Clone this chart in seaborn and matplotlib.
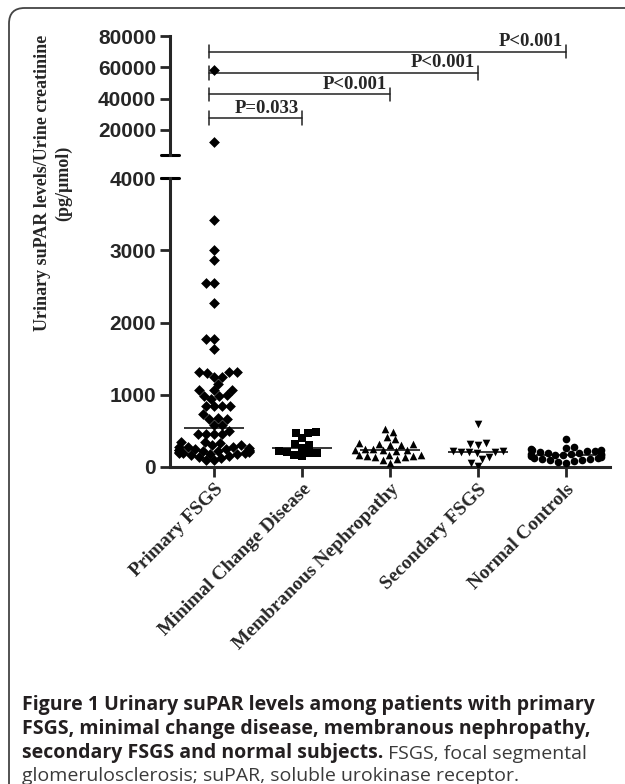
import numpy as np
import pandas as pd
import matplotlib
matplotlib.use("Agg")
import matplotlib.pyplot as plt
import seaborn as sns
from matplotlib.patches import FancyBboxPatch

categories = ["Primary FSGS", "Minimal Change Disease", "Membranous Nephropathy",
              "Secondary FSGS", "Normal Controls"]

primary_fsgs = [58000, 12300, 3420, 3000, 2870, 2540, 2540, 2270, 1770, 1770, 1630,
                1320, 1310, 1300, 1320, 1250, 1250, 1150, 1070, 1065, 1060,
                990, 985, 980, 940, 850, 845, 840, 850, 735, 670, 665, 675, 585, 580,
                505, 460, 455, 450, 455,
                345, 340, 335, 310, 300, 280, 275, 270, 265, 250, 245, 240, 235, 230,
                228, 225, 220, 210, 205, 200, 195, 190, 185, 180, 160, 150, 140, 130, 95, 90]
minimal_change = [490, 466, 470, 400, 318, 300, 259, 212, 190, 152, 166, 198, 226]
membranous = [522, 489, 383, 420, 314, 320, 310, 300, 330, 240, 235, 230, 245, 250, 228,
              160, 150, 155, 145, 165, 140, 170, 110, 100, 60]
secondary_fsgs = [600, 330, 305, 325, 218, 212, 210, 205, 215, 200, 140, 110, 60, 15]
normal_controls = [390, 280, 260, 250, 240, 230, 225, 220, 210, 200, 190, 185, 180, 175,
                   170, 165, 160, 150, 140, 130, 120, 115, 110, 100, 90, 80, 70, 60]

series = [primary_fsgs, minimal_change, membranous, secondary_fsgs, normal_controls]
comparison_targets = [1, 2, 3, 4]
comparison_labels = ["P=0.033", "P<0.001", "P<0.001", "P<0.001"]

lower_ticks = [0, 1000, 2000, 3000, 4000]
upper_ticks = [20000, 40000, 60000, 80000]

df = pd.concat([pd.DataFrame({"group": c, "value": v}) for c, v in zip(categories, series)],
               ignore_index=True)

sns.set_style("ticks")
plt.rcParams["font.family"] = ["Liberation Sans", "DejaVu Sans"]

W, H = 625, 784
fig = plt.figure(figsize=(W / 100, H / 100), dpi=100)

left, right = 170, 610
ax_lo = fig.add_axes([left / W, 1 - 467 / H, (right - left) / W, (467 - 178) / H])
ax_hi = fig.add_axes([left / W, 1 - 155 / H, (right - left) / W, (155 - 36) / H])

markers = ["D", "s", "^", "v", "o"]
half_width = 0.33

for ax, lo, hi in [(ax_lo, 0, 4000), (ax_hi, 4000, 80000)]:
    for i, (cat, m) in enumerate(zip(categories, markers)):
        sub = df[(df["group"] == cat) & (df["value"] >= lo) & (df["value"] <= hi)]
        if len(sub):
            sns.swarmplot(data=sub, x="group", y="value", order=categories, marker=m,
                          color="black", size=5.5, linewidth=0, ax=ax, warn_thresh=1)
            coll = ax.collections[-1]
            off = np.asarray(coll.get_offsets()).copy()
            off[:, 0] = i + np.clip(off[:, 0] - i, -half_width, half_width)
            coll.set_offsets(off)
    ax.set_xlim(-0.5, 4.5)
    ax.set_ylim(lo, hi)
    ax.set_xlabel("")
    ax.set_ylabel("")

# medians
for i, vals in enumerate(series):
    ax_lo.hlines(np.median(vals), i - 0.34, i + 0.34, color="black", lw=1.1, zorder=5)

# styling
for ax in (ax_lo, ax_hi):
    sns.despine(ax=ax)
    ax.spines["left"].set_linewidth(2.2)
    ax.spines["bottom"].set_linewidth(2.2)
    ax.tick_params(axis="both", length=7, width=2, labelsize=15, pad=3)
ax_hi.spines["bottom"].set_visible(False)
ax_hi.tick_params(axis="x", bottom=False, labelbottom=False)

ax_lo.set_yticks(lower_ticks)
ax_lo.set_yticklabels([str(t) for t in lower_ticks], fontweight="bold", fontsize=15)
ax_hi.set_yticks(upper_ticks)
ax_hi.set_yticklabels([str(t) for t in upper_ticks], fontweight="bold", fontsize=15)

ax_lo.set_xticks(range(len(categories)))
ax_lo.set_xticklabels(categories, rotation=45, ha="right", rotation_mode="anchor",
                      fontfamily="Liberation Serif", fontweight="bold", fontsize=14)

# axis end caps (broken axis)
ax_hi.plot([-0.02, 0.02], [0, 0], transform=ax_hi.transAxes, color="black", lw=2.2,
           clip_on=False)
ax_lo.plot([-0.02, 0.02], [1, 1], transform=ax_lo.transAxes, color="black", lw=2.2,
           clip_on=False)

# significance bars
bar_levels = [27500, 42800, 56500, 70000]
x_start = -0.06
cap = 4300
for tgt, lab, y in zip(comparison_targets, comparison_labels, bar_levels):
    ax_hi.plot([x_start, tgt], [y, y], color="#222222", lw=1.1, clip_on=False)
    ax_hi.plot([x_start, x_start], [y - cap, y + cap], color="#222222", lw=1.1, clip_on=False)
    ax_hi.plot([tgt, tgt], [y - cap, y + cap], color="#222222", lw=1.1, clip_on=False)
    ax_hi.text(tgt - 0.04, y + 900, lab, ha="right", va="bottom",
               fontfamily="Liberation Serif", fontweight="bold", fontsize=13.5)

# y label
fig.text(0.085, 1 - 183 / H, "Urinary suPAR levels/Urine creatinine\n(pg/\u00b5mol)",
         rotation=90, ha="center", va="center", multialignment="center",
         fontfamily="Liberation Serif", fontweight="bold", fontsize=13, linespacing=1.25)

# caption
cap_font = ["Open Sans", "DejaVu Sans"]
cx = 22 / W
fs = 14.0
dark = "#231f20"
grey = "#3a3a3a"
fig.text(cx, 1 - 705 / H, "Figure 1 Urinary suPAR levels among patients with primary",
         ha="left", va="center", fontfamily=cap_font, fontweight="bold", fontsize=fs,
         color=dark)
fig.text(cx, 1 - 729 / H, "FSGS, minimal change disease, membranous nephropathy,",
         ha="left", va="center", fontfamily=cap_font, fontweight="bold", fontsize=fs,
         color=dark)
t3 = fig.text(cx, 1 - 753 / H, "secondary FSGS and normal subjects.",
              ha="left", va="center", fontfamily=cap_font, fontweight="bold", fontsize=fs,
              color=dark)
ax_lo.annotate(" FSGS, focal segmental", xy=(1, 0), xycoords=t3, ha="left", va="bottom",
               fontfamily=cap_font, fontsize=fs, color=grey, annotation_clip=False)
fig.text(cx, 1 - 776 / H, "glomerulosclerosis; suPAR, soluble urokinase receptor.",
         ha="left", va="center", fontfamily=cap_font, fontsize=fs, color=grey)

# frame
frame = FancyBboxPatch((9 / W, -0.2), 1.3, 1 - 8 / H + 0.2,
                       boxstyle="round,pad=0,rounding_size=0.025",
                       transform=fig.transFigure, fill=False, ec="#444444", lw=1.3,
                       clip_on=False, mutation_aspect=W / H)
fig.patches.append(frame)

fig.savefig("out.png", dpi=100)
